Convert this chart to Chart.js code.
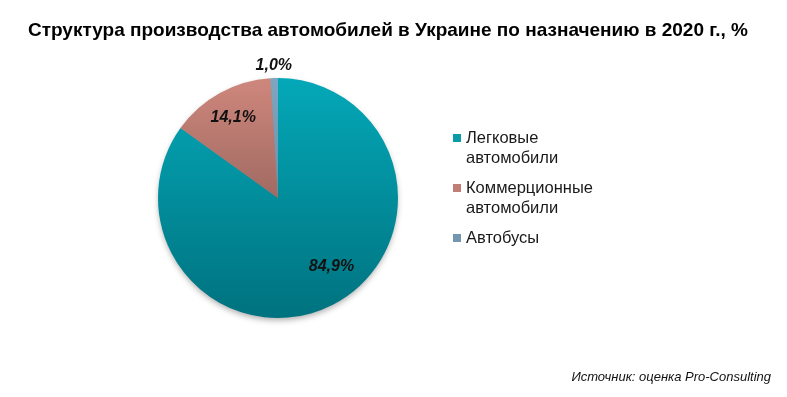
<!DOCTYPE html>
<html><head><meta charset="utf-8">
<script src="https://cdn.jsdelivr.net/npm/chart.js@4.4.0/dist/chart.umd.min.js"></script>
<style>html,body{margin:0;padding:0;background:#fff}#wrap{width:787px;height:397px;position:relative}</style>
</head><body><div id="wrap"><canvas id="c" width="787" height="397"></canvas></div>
<script>
const title = "Структура производства автомобилей в Украине по назначению в 2020 г., %";
const categories = [["Легковые", "автомобили"], ["Коммерционные", "автомобили"], ["Автобусы"]];
const values = [84.9, 14.1, 1.0];
const valueLabels = ["84,9%", "14,1%", "1,0%"];
const source = "Источник: оценка Pro-Consulting";
const gradTop = ["#04a8b8", "#cf877c", "#7fa6c0"];
const gradBottom = ["#00727f", "#a06a62", "#6d90a8"];
const legendColors = ["#0a9aa8", "#c07e76", "#7496b0"];

function sliceGradient(ctx){
  const chart = ctx.chart;
  const i = ctx.dataIndex;
  const area = chart.chartArea;
  if (!area) return gradTop[i];
  const cy = (area.top + area.bottom) / 2;
  // salmon & bus slices only occupy upper half
  const bottom = i === 0 ? area.bottom : cy;
  const g = chart.ctx.createLinearGradient(0, area.top, 0, bottom);
  g.addColorStop(0, gradTop[i]);
  g.addColorStop(1, gradBottom[i]);
  return g;
}

const textPlugin = {
  id: 'texts',
  beforeDatasetsDraw(chart){
    const a = chart.getDatasetMeta(0).data[0];
    const ctx = chart.ctx;
    ctx.save();
    ctx.shadowColor = 'rgba(0,0,0,0.35)';
    ctx.shadowBlur = 6;
    ctx.shadowOffsetY = 3;
    ctx.fillStyle = '#888';
    ctx.beginPath();
    ctx.arc(a.x, a.y, a.outerRadius - 1, 0, Math.PI * 2);
    ctx.fill();
    ctx.restore();
  },
  afterDatasetsDraw(chart){
    const ctx = chart.ctx;
    const meta = chart.getDatasetMeta(0);
    ctx.save();
    // title
    ctx.fillStyle = '#000';
    ctx.font = 'bold 19px "Liberation Sans Narrow", "Liberation Sans", Arial';
    ctx.textAlign = 'center';
    ctx.textBaseline = 'middle';
    ctx.fillText(title, 388, 31);
    // value labels
    const radial = [0.72, 0.77, 1.1];
    const shift = [[14, -8], [0, 0], [0, 0]];
    ctx.font = 'bold italic 16px "Liberation Sans", Arial';
    ctx.fillStyle = '#111';
    meta.data.forEach((arc, i) => {
      const mid = (arc.startAngle + arc.endAngle) / 2;
      const r = arc.outerRadius * radial[i];
      const x = arc.x + Math.cos(mid) * r + shift[i][0];
      const y = arc.y + Math.sin(mid) * r + shift[i][1];
      ctx.fillText(valueLabels[i], x, y);
    });
    // legend
    ctx.textAlign = 'left';
    ctx.font = '16.5px "Liberation Sans", Arial';
    let y = 138;
    categories.forEach((lines, i) => {
      ctx.fillStyle = legendColors[i];
      ctx.fillRect(453, y - 4, 8, 8);
      ctx.fillStyle = '#1a1a1a';
      lines.forEach((ln, k) => ctx.fillText(ln, 466, y + k * 20));
      y += lines.length * 20 + 10;
    });
    // source
    ctx.textAlign = 'right';
    ctx.font = 'italic 13px "Liberation Sans", Arial';
    ctx.fillStyle = '#111';
    ctx.fillText(source, 771, 377);
    ctx.restore();
  }
};

new Chart(document.getElementById('c'), {
  type: 'pie',
  data: {
    labels: categories.map(c => c.join(' ')),
    datasets: [{ data: values, backgroundColor: sliceGradient, borderWidth: 0 }]
  },
  options: {
    responsive: false,
    animation: false,
    layout: { padding: { left: 158, right: 389, top: 78, bottom: 79 } },
    plugins: { legend: { display: false }, title: { display: false }, tooltip: { enabled: false } }
  },
  plugins: [textPlugin]
});
</script></body></html>
